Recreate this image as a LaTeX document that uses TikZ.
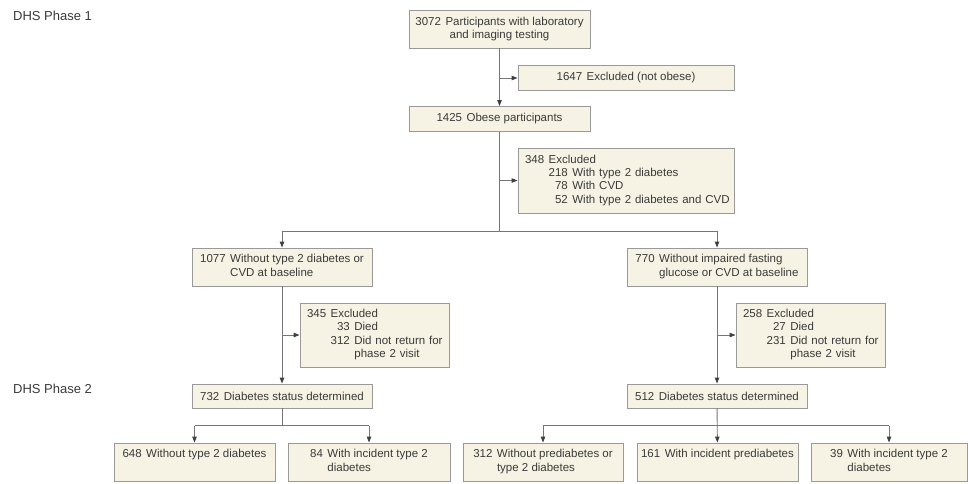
\documentclass[tikz,border=0pt]{standalone}
\usepackage{fontspec}
\setmainfont{Liberation Sans}
\usetikzlibrary{arrows.meta}
\definecolor{boxfill}{HTML}{F6F3E4}
\definecolor{boxline}{HTML}{999999}
\definecolor{connc}{HTML}{767676}
\definecolor{txt}{HTML}{3A3A3A}
\newcommand{\twoline}[3]{\begin{tabular}{@{}l@{\hspace{4.5pt}}l@{}}#1 & #2\\ & #3\end{tabular}}
\begin{document}
\begin{tikzpicture}[x=1pt,y=-1pt,
  box/.style={draw=boxline, fill=boxfill, line width=0.9pt, inner sep=0pt, text=txt,
    font=\fontsize{11.5}{13.4}\selectfont, align=center},
  exbox/.style={box, inner xsep=7pt, align=left},
  conn/.style={draw=connc, line width=0.9pt},
  arr/.style={conn, -{Triangle[length=6pt,width=4.5pt,color=black!75]}},
  phase/.style={text=txt, font=\fontsize{13}{15}\selectfont, anchor=west, inner sep=0pt}]
\useasboundingbox (0,0) rectangle (968,483);

% phase labels
\node[phase] (p1) at (13,16) {DHS Phase 1};
\node[phase] (p2) at (13,389) {DHS Phase 2};

% boxes
\node[box, minimum width=181pt, minimum height=38pt] (b1) at (499.5,29)
  {3072\hspace{4.5pt}Participants with laboratory\\ and imaging testing};
\node[box, minimum width=216pt, minimum height=25pt] (ex1) at (626,78)
  {1647\hspace{4.5pt}Excluded (not obese)};
\node[box, minimum width=181pt, minimum height=25pt] (b2) at (499.5,119)
  {1425\hspace{4.5pt}Obese participants};
\node[exbox, text width=202pt, minimum height=65pt] (ex2) at (626,180.5)
  {\begin{tabular}{@{}l@{\hspace{4.5pt}}r@{\hspace{4.5pt}}l@{}}
   348 & \multicolumn{2}{@{}l@{}}{Excluded}\\
       & 218 & With type 2 diabetes\\
       & 78 & With CVD\\
       & 52 & With type 2 diabetes and CVD
   \end{tabular}};

\node[box, minimum width=180pt, minimum height=38pt] (L1) at (282,267)
  {\twoline{1077}{Without type 2 diabetes or}{CVD at baseline}};
\node[box, minimum width=180pt, minimum height=38pt] (R1) at (717,267)
  {\twoline{770}{Without impaired fasting}{glucose or CVD at baseline}};

\node[exbox, text width=135pt, minimum height=64pt] (exL) at (374.5,335)
  {\begin{tabular}{@{}l@{\hspace{4.5pt}}r@{\hspace{4.5pt}}l@{}}
   345 & \multicolumn{2}{@{}l@{}}{Excluded}\\
       & 33 & Died\\
       & 312 & Did not return for\\
       &  & phase 2 visit
   \end{tabular}};
\node[exbox, text width=135pt, minimum height=64pt] (exR) at (810.5,335)
  {\begin{tabular}{@{}l@{\hspace{4.5pt}}r@{\hspace{4.5pt}}l@{}}
   258 & \multicolumn{2}{@{}l@{}}{Excluded}\\
       & 27 & Died\\
       & 231 & Did not return for\\
       &  & phase 2 visit
   \end{tabular}};

\node[box, minimum width=180pt, minimum height=24pt] (L2) at (282,396)
  {732\hspace{4.5pt}Diabetes status determined};
\node[box, minimum width=180pt, minimum height=24pt] (R2) at (717,396)
  {512\hspace{4.5pt}Diabetes status determined};

\node[box, minimum width=161pt, minimum height=38pt] (LL) at (194.5,462)
  {\twoline{648}{Without type 2 diabetes}{}};
\node[box, minimum width=162pt, minimum height=38pt] (LR) at (369,462)
  {\twoline{84}{With incident type 2}{diabetes}};
\node[box, minimum width=160pt, minimum height=38pt] (RL) at (543,462)
  {\twoline{312}{Without prediabetes or}{type 2 diabetes}};
\node[box, minimum width=161pt, minimum height=38pt] (RM) at (717.5,462)
  {\twoline{161}{With incident prediabetes}{}};
\node[box, minimum width=156pt, minimum height=38pt] (RR) at (889,462)
  {\twoline{39}{With incident type 2}{diabetes}};

% connectors
\coordinate (s1y) at (0,231);
\coordinate (s2y) at (0,425.5);

\draw[arr] (b1) -- (b2);
\draw[arr] (b1.south |- ex1.west) -- (ex1.west);

\draw[conn] (b2.south) -- (b2.south |- s1y);
\draw[arr] (b2.south |- ex2.west) -- (ex2.west);
\draw[conn] (L1.north |- s1y) -- (R1.north |- s1y);
\draw[arr] (L1.north |- s1y) -- (L1.north);
\draw[arr] (R1.north |- s1y) -- (R1.north);

\draw[arr] (L1) -- (L2);
\draw[arr] (L1.south |- exL.west) -- (exL.west);
\draw[arr] (R1) -- (R2);
\draw[arr] (R1.south |- exR.west) -- (exR.west);

\draw[conn] (L2.south) -- (L2.south |- s2y);
\draw[conn] (LL.north |- s2y) -- (LR.north |- s2y);
\draw[arr] (LL.north |- s2y) -- (LL.north);
\draw[arr] (LR.north |- s2y) -- (LR.north);

\draw[arr] (R2) -- (RM);
\draw[conn] (RL.north |- s2y) -- (RR.north |- s2y);
\draw[arr] (RL.north |- s2y) -- (RL.north);
\draw[arr] (RR.north |- s2y) -- (RR.north);
\end{tikzpicture}
\end{document}
